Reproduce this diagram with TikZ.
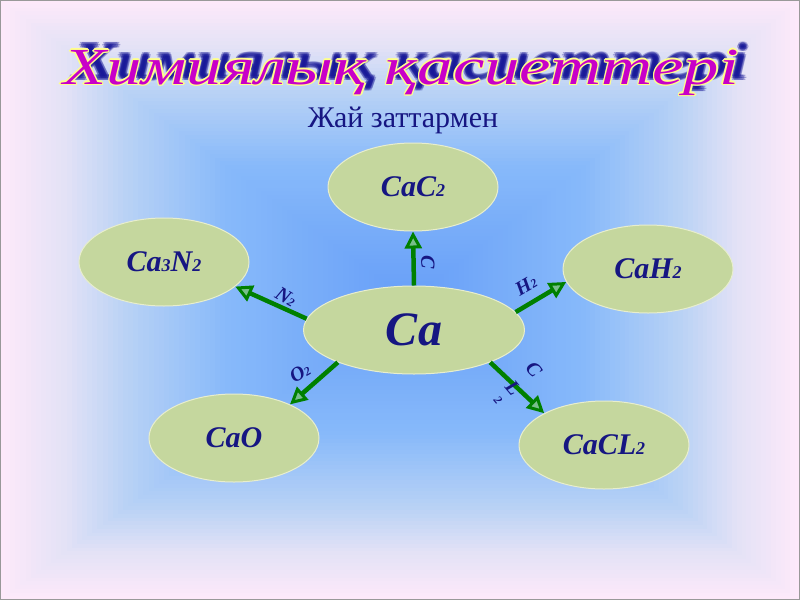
\documentclass[tikz,border=0pt]{standalone}
\usepackage{fontspec}
\setmainfont{Liberation Serif}
\usetikzlibrary{arrows.meta,shapes.geometric}
\definecolor{cA}{RGB}{253,233,250}
\definecolor{cB}{RGB}{228,226,246}
\definecolor{cC}{RGB}{185,210,245}
\definecolor{cD}{RGB}{135,185,250}
\definecolor{cE}{RGB}{102,158,248}
\definecolor{ellfill}{RGB}{197,215,158}
\definecolor{ellline}{RGB}{232,238,205}
\definecolor{navy}{RGB}{22,22,130}
\definecolor{arrowgreen}{RGB}{0,128,0}
\definecolor{arrowlight}{RGB}{120,190,140}
\definecolor{ttlmag}{RGB}{200,0,200}
\definecolor{ttlyel}{RGB}{255,255,140}
\definecolor{ttlshadow}{RGB}{20,20,150}
\newcommand\ttltext{\scalebox{1.36}[1]{Химиялық қасиеттері}}
\newcommand\sbs[1]{{\fontsize{18}{18}\selectfont #1}}
\newcommand\lsb[1]{{\fontsize{12}{12}\selectfont #1}}
\newcommand\bgrect[1]{\pgfmathsetmacro\ta{#1/80}%
  \pgfmathsetmacro\xa{\ta*410}\pgfmathsetmacro\ya{\ta*300}%
  \pgfmathsetmacro\xb{800-\ta*390}\pgfmathsetmacro\yb{600-\ta*300}}
\begin{document}
\begin{tikzpicture}[x=1pt,y=-1pt,
  ell/.style={ellipse, fill=ellfill, draw=ellline, line width=1pt, minimum width=170pt, minimum height=88pt, inner sep=0pt, text=navy, font=\fontsize{30}{30}\selectfont\bfseries\itshape},
  arr/.style={draw=arrowgreen, line width=4.5pt, -{Triangle[length=17pt,width=17pt,fill=arrowlight,line width=3pt]}},
  lab/.style={text=navy, font=\fontsize{20}{20}\selectfont\bfseries\itshape, inner sep=0pt},
  ttl/.style={font=\fontsize{52}{52}\selectfont\itshape, anchor=base, inner sep=0pt}]
\useasboundingbox (0,0) rectangle (800,600);
% box gradient background
\foreach \i in {0,...,11}{\pgfmathtruncatemacro\p{100*\i/12}\bgrect{\i}
  \fill[cB!\p!cA] (\xa,\ya) rectangle (\xb,\yb);}
\foreach \i in {12,...,23}{\pgfmathtruncatemacro\p{100*(\i-12)/12}\bgrect{\i}
  \fill[cC!\p!cB] (\xa,\ya) rectangle (\xb,\yb);}
\foreach \i in {24,...,43}{\pgfmathtruncatemacro\p{100*(\i-24)/20}\bgrect{\i}
  \fill[cD!\p!cC] (\xa,\ya) rectangle (\xb,\yb);}
\foreach \i in {44,...,79}{\pgfmathtruncatemacro\p{100*(\i-44)/36}\bgrect{\i}
  \fill[cE!\p!cD] (\xa,\ya) rectangle (\xb,\yb);}
\draw[gray!80, line width=1pt] (0.5,0.5) rectangle (799.5,599.5);
% title shadow
\foreach \dx/\dy in {8/-6,10/-6,12/-6,9/-4,11/-4,9/-8,11/-8,10/-5,10/-7}
  \node[ttl, text=ttlshadow, opacity=0.32] at (401+\dx,84+\dy) {\ttltext};
% title outline
\foreach \dx/\dy in {-1.3/0,1.3/0,0/-1.3,0/1.3,-1/-1,1/1,-1/1,1/-1}
  \node[ttl, text=ttlyel] at (401+\dx,84+\dy) {\ttltext};
\node[ttl, text=ttlmag] (title) at (401,84) {\ttltext};
\node[text=navy, font=\fontsize{30}{30}\selectfont, anchor=base, inner sep=0pt] (sub) at (403,127) {Жай заттармен};
% nodes
\node[ell] (cac2) at (413,187) {CaC\sbs{2}};
\node[ell] (ca3n2) at (164,262) {Ca\sbs{3}N\sbs{2}};
\node[ell] (cah2) at (648,269) {CaH\sbs{2}};
\node[ell] (cao) at (234,438) {CaO};
\node[ell] (cacl2) at (604,445) {CaCL\sbs{2}};
\node[ell, minimum width=221pt, minimum height=88pt, font=\fontsize{48}{48}\selectfont\bfseries\itshape] (ca) at (414,330) {Ca};
% arrows
\draw[arr] (ca.north) -- (cac2.south);
\draw[arr] (ca.174) -- (ca3n2.341);
\draw[arr] (ca.10) -- (cah2.189);
\draw[arr] (ca.203) -- (cao.31);
\draw[arr] (ca.337) -- (cacl2.152);
% labels
\node[lab, rotate=-90] (lc) at (428,262) {C};
\node[lab, rotate=-30] (ln2) at (286,297) {N\lsb{2}};
\node[lab, rotate=30] (lh2) at (526,285) {H\lsb{2}};
\node[lab, rotate=30] (lo2) at (300,373) {O\lsb{2}};
\node[lab, rotate=-50] (lcl1) at (534,369) {C};
\node[lab, rotate=-50] (lcl2) at (513,388) {L};
\node[lab, rotate=-50, font=\fontsize{12}{12}\selectfont\bfseries\itshape] (lcl3) at (498,400) {2};
\end{tikzpicture}
\end{document}
